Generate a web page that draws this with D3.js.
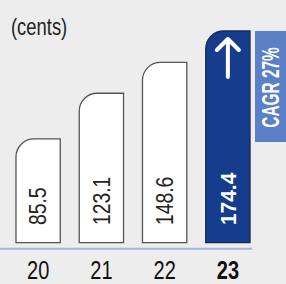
<!DOCTYPE html>
<meta charset="UTF-8">
<style>
body { margin: 0; background: #ecedec; }
svg { display: block; }
text { font-family: "Liberation Sans", Arial, sans-serif; }
</style>
<body>
<script src="https://d3js.org/d3.v7.min.js"></script>
<script>
// data
var years = ["20", "21", "22", "23"];
var values = [85.5, 123.1, 148.6, 174.4];
var unitLabel = "(cents)";
var cagrLabel = "CAGR 27%";

var width = 286, height = 284;

var svg = d3.select("body").append("svg")
    .attr("width", width)
    .attr("height", height);

var x = d3.scaleBand()
    .domain(years)
    .range([6.5, 259.5])
    .paddingInner(0.3)
    .paddingOuter(0.15);

var y = d3.scaleLinear()
    .domain([0, 174.4])
    .range([242.7, 31]);

// bar with rounded top-left corner
function bar(x0, y0, w, h, r) {
  return "M" + x0 + "," + (y0 + h) +
    "V" + (y0 + r) +
    "A" + r + "," + r + " 0 0 1 " + (x0 + r) + "," + y0 +
    "H" + (x0 + w) +
    "V" + (y0 + h) + "Z";
}

// unit label (squeezed to look condensed)
svg.append("text")
    .attr("transform", "translate(11,35) scale(0.8,1)")
    .attr("font-size", 23)
    .attr("fill", "#222")
    .text(unitLabel);

// baseline
svg.append("line")
    .attr("x1", 0).attr("x2", 252)
    .attr("y1", 248.7).attr("y2", 248.7)
    .attr("stroke", "#9fb4de")
    .attr("stroke-width", 2);

var last = years.length - 1;

svg.selectAll("path.bar")
    .data(values)
    .enter().append("path")
    .attr("class", "bar")
    .attr("d", function(d, i) {
      return bar(x(years[i]), y(d), x.bandwidth(), y(0) - y(d), 18);
    })
    .attr("fill", function(d, i) { return i == last ? "#163c8e" : "#fff"; })
    .attr("stroke", function(d, i) { return i == last ? "#1b2a55" : "#555"; })
    .attr("stroke-width", 1.3);

// value labels (rotated)
svg.selectAll("text.val")
    .data(values)
    .enter().append("text")
    .attr("class", "val")
    .attr("transform", function(d, i) {
      var s = i == last ? 0.95 : 0.84;
      return "translate(" + (x(years[i]) + x.bandwidth() / 2) + ",225) rotate(-90) scale(" + s + ",1)";
    })
    .attr("dy", "0.36em")
    .attr("font-size", function(d, i) { return i == last ? 22 : 23; })
    .attr("font-weight", function(d, i) { return i == last ? "bold" : "normal"; })
    .attr("fill", function(d, i) { return i == last ? "#fff" : "#222"; })
    .text(function(d) { return d.toFixed(1); });

// year labels
svg.selectAll("text.year")
    .data(years)
    .enter().append("text")
    .attr("class", "year")
    .attr("transform", function(d) {
      return "translate(" + (x(d) + x.bandwidth() / 2) + ",279) scale(0.8,1)";
    })
    .attr("text-anchor", "middle")
    .attr("font-size", 25)
    .attr("font-weight", function(d, i) { return i == last ? "bold" : "normal"; })
    .attr("fill", "#111")
    .text(function(d) { return d; });

// arrow in last bar
var ax = x(years[last]) + x.bandwidth() / 2;
svg.append("path")
    .attr("d", "M" + ax + ",77V39M" + (ax - 11) + ",50L" + ax + ",39L" + (ax + 11) + ",50")
    .attr("fill", "none")
    .attr("stroke", "#fff")
    .attr("stroke-width", 4)
    .attr("stroke-linecap", "round")
    .attr("stroke-linejoin", "round");

// CAGR box
svg.append("rect")
    .attr("x", 255).attr("y", y(174.4))
    .attr("width", 31).attr("height", 142 - y(174.4))
    .attr("fill", "#5b80c5");

svg.append("text")
    .attr("transform", "translate(270.5," + ((y(174.4) + 142) / 2 + 1) + ") rotate(-90) scale(0.67,1)")
    .attr("text-anchor", "middle")
    .attr("dy", "0.36em")
    .attr("font-size", 23)
    .attr("font-weight", "bold")
    .attr("fill", "#fff")
    .text(cagrLabel);
</script>
</body>
